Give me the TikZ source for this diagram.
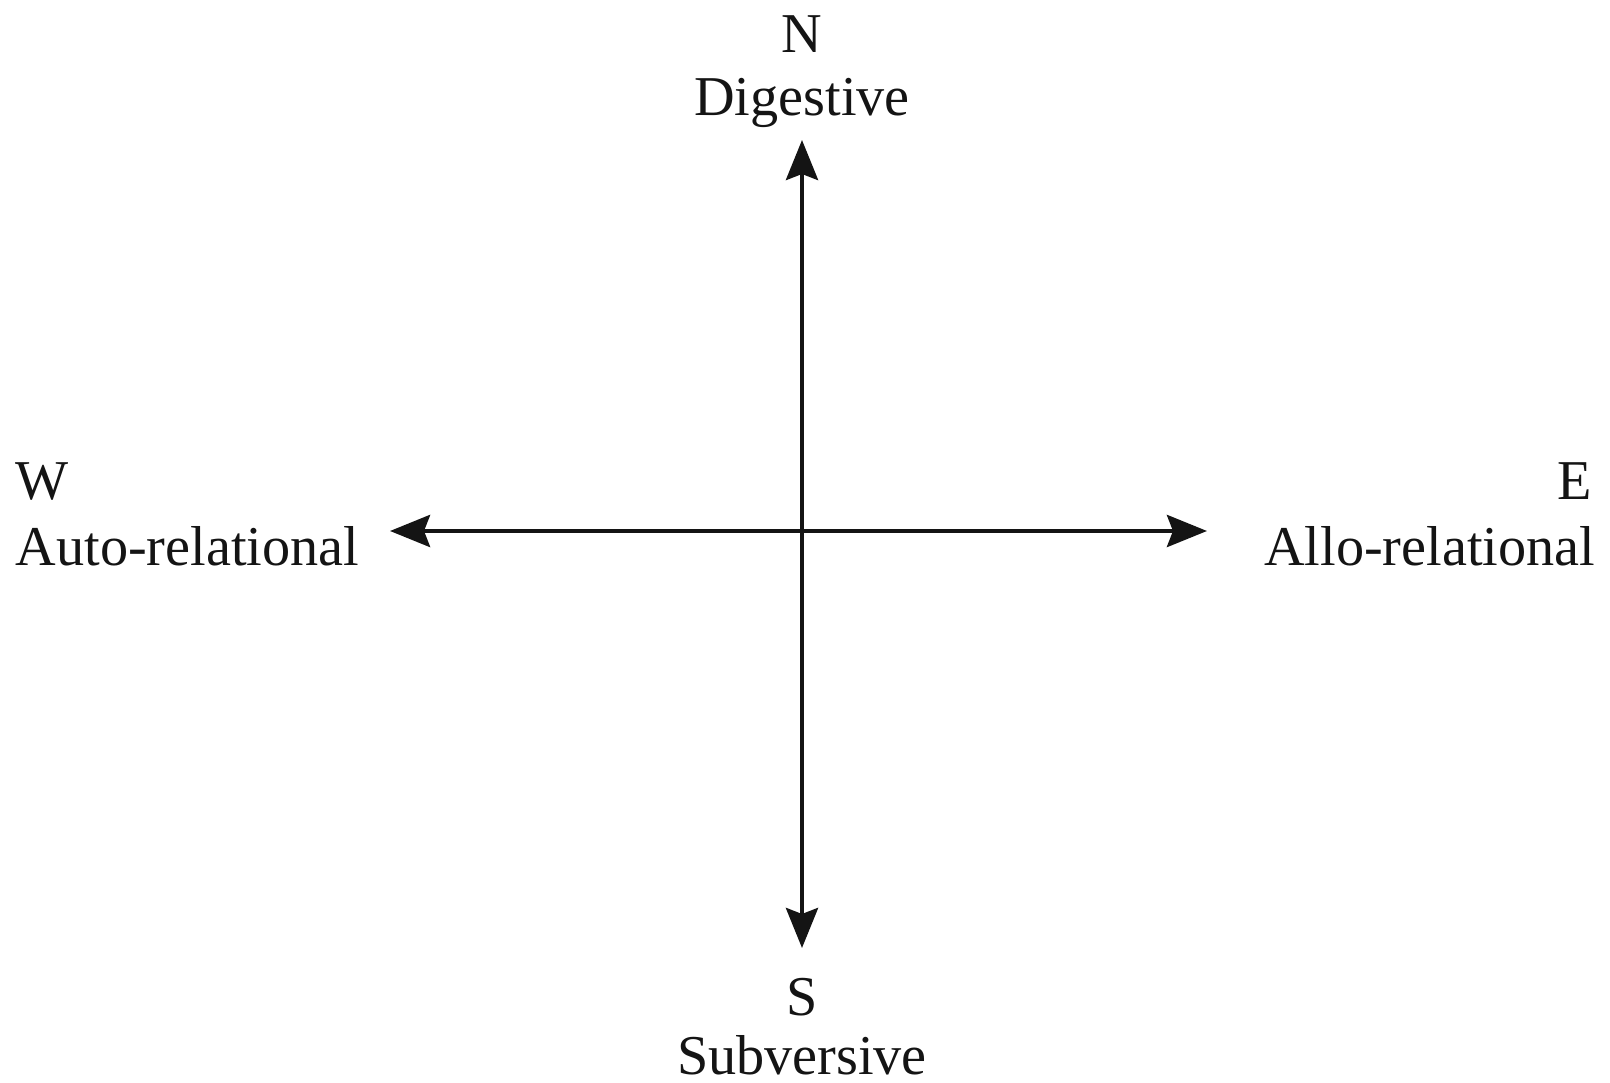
\documentclass[tikz,border=0pt]{standalone}
\usepackage{fontspec}
\setmainfont{Liberation Serif}
\usetikzlibrary{arrows.meta,positioning}
\definecolor{ink}{RGB}{20,20,20}
\tikzset{
  >={Stealth[length=4mm,width=3.2mm,inset=0.6mm]},
  axis/.style={<->,draw=ink,line width=1.3pt},
  pole/.style={font=\fontsize{16}{19}\selectfont,text=ink,inner sep=0pt},
}
\begin{document}
\begin{tikzpicture}
    \useasboundingbox (0,0) rectangle (16.1,-10.83);
    % compass points
    \node[pole,anchor=base] (nlet) at (8.02,-0.53) {N};
    \node[pole,anchor=base] (nlab) at (8.02,-1.16) {Digestive};
    \node[pole,anchor=base] (slet) at (8.02,-10.15) {S};
    \node[pole,anchor=base] (slab) at (8.02,-10.74) {Subversive};
    \node[pole,anchor=base west] (wlet) at (0.15,-5.00) {W};
    \node[pole,anchor=base west] (wlab) at (0.15,-5.66) {Auto-relational};
    \node[pole,anchor=base east] (elet) at (15.93,-5.00) {E};
    \node[pole,anchor=base east] (elab) at (15.96,-5.66) {Allo-relational};
    % axes
    \coordinate (o) at (8.02,-5.31);
    \coordinate (up) at (8.02,-1.40);
    \coordinate (down) at (8.02,-9.48);
    \coordinate (left) at (3.90,-5.31);
    \coordinate (right) at (12.07,-5.31);
    \draw[axis] (up) -- (down);
    \draw[axis] (left) -- (right);
\end{tikzpicture}
\end{document}
